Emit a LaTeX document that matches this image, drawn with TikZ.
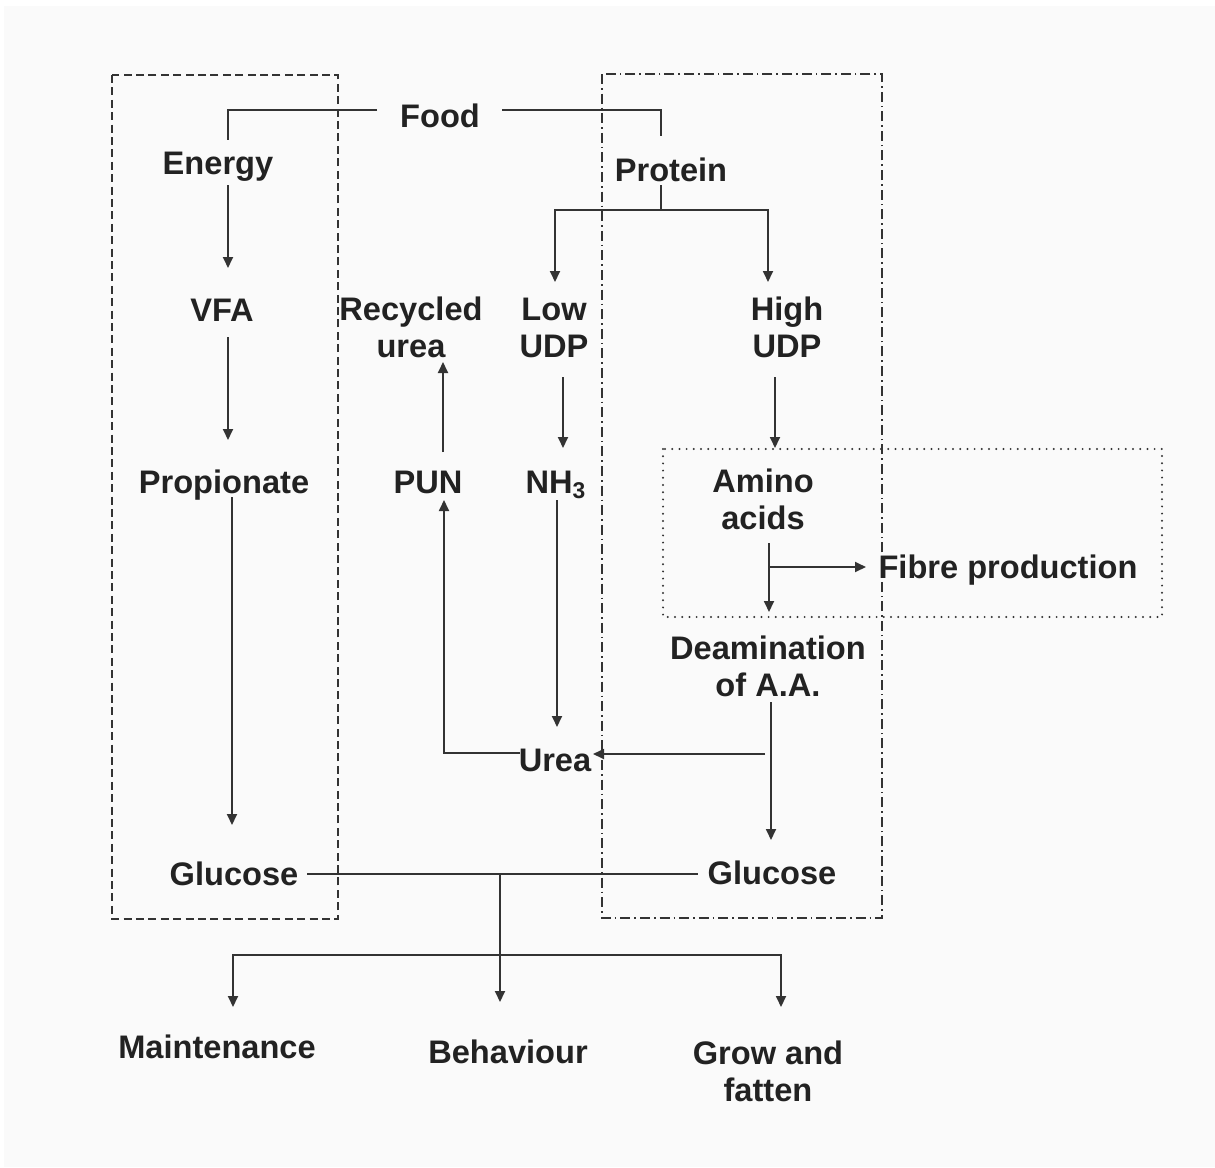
\documentclass[tikz,border=0pt]{standalone}
\usepackage{fontspec}
\setmainfont{Liberation Sans}
\usetikzlibrary{arrows.meta}
\definecolor{bgc}{HTML}{FAFAFA}
\definecolor{txt}{HTML}{222222}
\definecolor{ln}{HTML}{333333}
\begin{document}
\begin{tikzpicture}[x=0.5pt,y=-0.5pt,
  lbl/.style={anchor=base,inner sep=0pt,text=txt,font=\fontsize{16.3}{18.5}\selectfont\bfseries,align=center},
  conn/.style={draw=ln,line width=0.9pt},
  arr/.style={conn,-{Triangle[length=5.5pt,width=5pt]}},
  boxdash/.style={draw=ln,line width=0.75pt,dash pattern=on 4pt off 2.2pt},
  boxdashdot/.style={draw=ln,line width=0.75pt,dash pattern=on 5pt off 2pt on 0.8pt off 2pt},
  boxdot/.style={draw=ln,line width=1.1pt,line cap=round,dash pattern=on 0pt off 3.6pt}]
\useasboundingbox (0,0) rectangle (1215,1167);
\fill[white] (0,0) rectangle (1215,1167);
\fill[bgc] (4,6) rectangle (1215,1167);
% group boxes
\draw[boxdash] (112,75) rectangle (338,919);
\draw[boxdashdot] (602,74) rectangle (882,918);
\draw[boxdot] (663,449) rectangle (1162,617);
% labels (multi-line nodes: base = last line)
\node[lbl] (food) at (440,127.5) {Food};
\node[lbl] (energy) at (218,174) {Energy};
\node[lbl] (protein) at (671,181) {Protein};
\node[lbl] (vfa) at (222,321) {VFA};
\node[lbl] (recyc) at (411,357) {Recycled\\urea};
\node[lbl] (low) at (554,357) {Low\\UDP};
\node[lbl] (high) at (787,357) {High\\UDP};
\node[lbl] (prop) at (224,493) {Propionate};
\node[lbl] (pun) at (428,493) {PUN};
\node[lbl] (nh3) at (556,493) {NH\textsubscript{3}};
\node[lbl] (amino) at (763,529) {Amino\\acids};
\node[lbl] (fibre) at (1008,578) {Fibre production};
\node[lbl] (deam) at (768,696) {Deamination\\of A.A.};
\node[lbl] (urea) at (555,771) {Urea};
\node[lbl] (glcL) at (234,885) {Glucose};
\node[lbl] (glcR) at (772,884) {Glucose};
\node[lbl] (maint) at (217,1058) {Maintenance};
\node[lbl] (behav) at (508,1063) {Behaviour};
\node[lbl] (grow) at (768,1101) {Grow and\\fatten};
% connectors
\draw[conn] ([shift={(-63,-17.5)}]food.base) -| ([shift={(10,-34)}]energy.base);
\draw[conn] ([shift={(62,-17.5)}]food.base) -| ([shift={(-10,-45)}]protein.base);
\draw[conn] ([shift={(-10,4)}]protein.base) -- ++(0,25) coordinate (pj);
\draw[arr] (pj) -| ([shift={(1,-75)}]low.base);
\draw[arr] (pj) -| ([shift={(-19,-75)}]high.base);
\draw[arr] ([shift={(10,11)}]energy.base) -- ([shift={(6,-53)}]vfa.base);
\draw[arr] ([shift={(6,16)}]vfa.base) -- ([shift={(4,-53)}]prop.base);
\draw[arr] ([shift={(8,4)}]prop.base) -- ([shift={(-2,-60)}]glcL.base);
\draw[arr] ([shift={(9,20)}]low.base) -- ([shift={(7,-45)}]nh3.base);
\draw[arr] ([shift={(-12,20)}]high.base) -- ([shift={(12,-81)}]amino.base);
\draw[arr] ([shift={(15,-41)}]pun.base) -- ([shift={(32,5)}]recyc.base);
\draw[arr] ([shift={(1,7)}]nh3.base) -- ([shift={(2,-44)}]urea.base);
\draw[arr] ([shift={(6,14)}]amino.base) -- ([shift={(1,-84)}]deam.base);
\draw[arr] ([shift={(6,38)}]amino.base) -- ([shift={(-142,-11)}]fibre.base);
\draw[arr] ([shift={(3,6)}]deam.base) -- ([shift={(-1,-44)}]glcR.base);
\draw[arr] ([shift={(-3,58)}]deam.base) -- ([shift={(38,-17)}]urea.base);
\draw[arr] ([shift={(-35,-18)}]urea.base) -| ([shift={(16,7)}]pun.base);
\draw[conn] ([shift={(73,-11)}]glcL.base) -- ([shift={(-74,-10)}]glcR.base);
\coordinate (gj) at ([shift={(-272,-10)}]glcR.base);
\draw[arr] (gj) -- ([shift={(-8,-61)}]behav.base);
\coordinate (bj) at ([shift={(-8,-108)}]behav.base);
\draw[arr] (bj) -| ([shift={(16,-51)}]maint.base);
\draw[arr] (bj) -| ([shift={(13,-94)}]grow.base);
\end{tikzpicture}
\end{document}
